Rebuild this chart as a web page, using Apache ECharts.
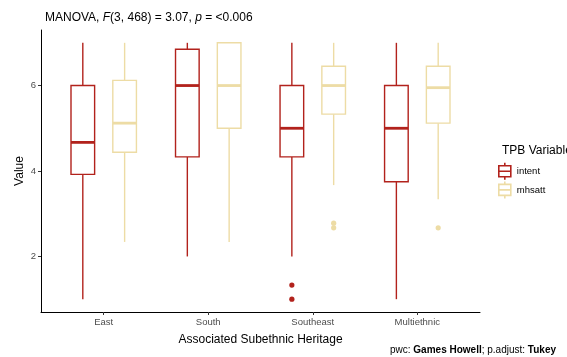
<!DOCTYPE html>
<html>
<head>
<meta charset="utf-8">
<script src="https://cdn.jsdelivr.net/npm/echarts@6/dist/echarts.min.js"></script>
<style>html,body{margin:0;padding:0;background:#fff}#c{width:567px;height:357px}</style>
</head>
<body>
<div id="c"></div>
<script>
// Categories and tick labels
var categories = ['East', 'South', 'Southeast', 'Multiethnic'];
var yTicks = [2, 4, 6];
var seriesNames = ['intent', 'mhsatt'];
// Boxplot stats per category: [lowerWhisker, Q1, median, Q3, upperWhisker]
var intentStats = [
  [1.0, 3.92, 4.67, 6.0, 7.0],
  [2.0, 4.33, 6.0, 6.85, 7.0],
  [2.0, 4.33, 5.0, 6.0, 7.0],
  [1.0, 3.75, 5.0, 6.0, 7.0]
];
var mhsattStats = [
  [2.34, 4.44, 5.12, 6.12, 7.0],
  [2.34, 5.0, 6.0, 7.0, 7.0],
  [3.67, 5.33, 6.0, 6.45, 7.0],
  [3.34, 5.12, 5.95, 6.45, 7.0]
];
// Outliers: [categoryIndex, value]
var intentOutliers = [[2, 1.33], [2, 1.0]];
var mhsattOutliers = [[2, 2.78], [2, 2.67], [3, 2.67]];

var RED = '#B2221C', BEIGE = '#EDDCA5';
var FONT = 'Liberation Sans, Arial, sans-serif';
var DODGE = 0.2, HALFW = 0.113;

function boxData(stats) {
  return stats.map(function (s, i) { return [i].concat(s); });
}
function boxRender(offset, color) {
  return function (params, api) {
    var x = api.value(0) + offset;
    var lo = api.value(1), q1 = api.value(2), md = api.value(3), q3 = api.value(4), hi = api.value(5);
    var c = api.coord([x, md]);
    var l = api.coord([x - HALFW, md])[0], r = api.coord([x + HALFW, md])[0];
    var yLo = api.coord([x, lo])[1], yQ1 = api.coord([x, q1])[1], yMd = c[1];
    var yQ3 = api.coord([x, q3])[1], yHi = api.coord([x, hi])[1];
    var ls = {stroke: color, lineWidth: 1.4, fill: null};
    return {type: 'group', children: [
      {type: 'line', shape: {x1: c[0], y1: yHi, x2: c[0], y2: yQ3}, style: ls},
      {type: 'line', shape: {x1: c[0], y1: yQ1, x2: c[0], y2: yLo}, style: ls},
      {type: 'rect', shape: {x: l, y: yQ3, width: r - l, height: yQ1 - yQ3}, style: {stroke: color, lineWidth: 1.4, fill: '#fff'}},
      {type: 'line', shape: {x1: l, y1: yMd, x2: r, y2: yMd}, style: {stroke: color, lineWidth: 2.8}}
    ]};
  };
}
function outRender(offset, color) {
  return function (params, api) {
    var p = api.coord([api.value(0) + offset, api.value(1)]);
    return {type: 'circle', shape: {cx: p[0], cy: p[1], r: 2.6}, style: {fill: color}};
  };
}
var glyph = 'path://M6 0V3M0 3H12V14H0ZM0 8.5H12M6 14V17';

var chart = echarts.init(document.getElementById('c'), null, {renderer: 'canvas'});
chart.setOption({
  animation: false,
  textStyle: {fontFamily: FONT},
  title: [
    {text: 'MANOVA, {i|F}(3, 468) = 3.07, {i|p} = <0.006', left: 40, top: 7,
      textStyle: {fontSize: 12, fontWeight: 'normal', color: '#000', fontFamily: FONT,
        rich: {i: {fontStyle: 'italic', fontSize: 12, color: '#000', fontFamily: FONT}}}},
    {text: 'TPB Variable', left: 497, top: 140,
      textStyle: {fontSize: 12, fontWeight: 'normal', color: '#000', fontFamily: FONT}},
    {text: 'pwc: {b|Games Howell}; p.adjust: {b|Tukey}', right: 6, top: 340,
      textStyle: {fontSize: 10, fontWeight: 'normal', color: '#000', fontFamily: FONT,
        rich: {b: {fontWeight: 'bold', fontSize: 10, color: '#000', fontFamily: FONT}}}}
  ],
  legend: {
    orient: 'vertical', left: 493, top: 157, itemWidth: 14, itemHeight: 17, itemGap: 0,
    padding: [5, 5, 5, 5],
    textStyle: {fontSize: 9.5, color: '#000', fontFamily: FONT},
    data: [
      {name: 'intent', icon: glyph, itemStyle: {color: '#fff', borderColor: RED, borderWidth: 1.6}},
      {name: 'mhsatt', icon: glyph, itemStyle: {color: '#fff', borderColor: BEIGE, borderWidth: 1.6}}
    ]
  },
  grid: {left: 41, right: 87, top: 30, bottom: 45},
  xAxis: {
    type: 'value', min: -0.6, max: 3.6,
    name: 'Associated Subethnic Heritage', nameLocation: 'middle', nameGap: 22,
    nameTextStyle: {fontSize: 12, color: '#000', fontFamily: FONT},
    axisLine: {show: true, onZero: false, lineStyle: {color: '#000', width: 1}},
    axisTick: {show: true, length: 3, customValues: [0, 1, 2, 3], lineStyle: {color: '#333'}},
    axisLabel: {customValues: [0, 1, 2, 3], fontSize: 9.5, color: '#4D4D4D', margin: 5,
      formatter: function (v) { return categories[Math.round(v)]; }},
    splitLine: {show: false}
  },
  yAxis: {
    type: 'value', min: 0.7, max: 7.3,
    name: 'Value', nameLocation: 'middle', nameGap: 15, nameRotate: 90, nameMoveOverlap: false,
    nameTextStyle: {fontSize: 12, color: '#000', fontFamily: FONT},
    axisLine: {show: true, onZero: false, lineStyle: {color: '#000', width: 1}},
    axisTick: {show: true, length: 3, customValues: yTicks, lineStyle: {color: '#333'}},
    axisLabel: {customValues: yTicks, fontSize: 9.5, color: '#4D4D4D', margin: 5},
    splitLine: {show: false}
  },
  series: [
    {name: seriesNames[0], type: 'custom', itemStyle: {color: RED}, renderItem: boxRender(-DODGE, RED), data: boxData(intentStats), encode: {x: 0, y: [1, 2, 3, 4, 5]}},
    {name: seriesNames[1], type: 'custom', itemStyle: {color: BEIGE}, renderItem: boxRender(DODGE, BEIGE), data: boxData(mhsattStats), encode: {x: 0, y: [1, 2, 3, 4, 5]}},
    {name: seriesNames[0], type: 'custom', itemStyle: {color: RED}, renderItem: outRender(-DODGE, RED), data: intentOutliers},
    {name: seriesNames[1], type: 'custom', itemStyle: {color: BEIGE}, renderItem: outRender(DODGE, BEIGE), data: mhsattOutliers}
  ]
});
</script>
</body>
</html>
